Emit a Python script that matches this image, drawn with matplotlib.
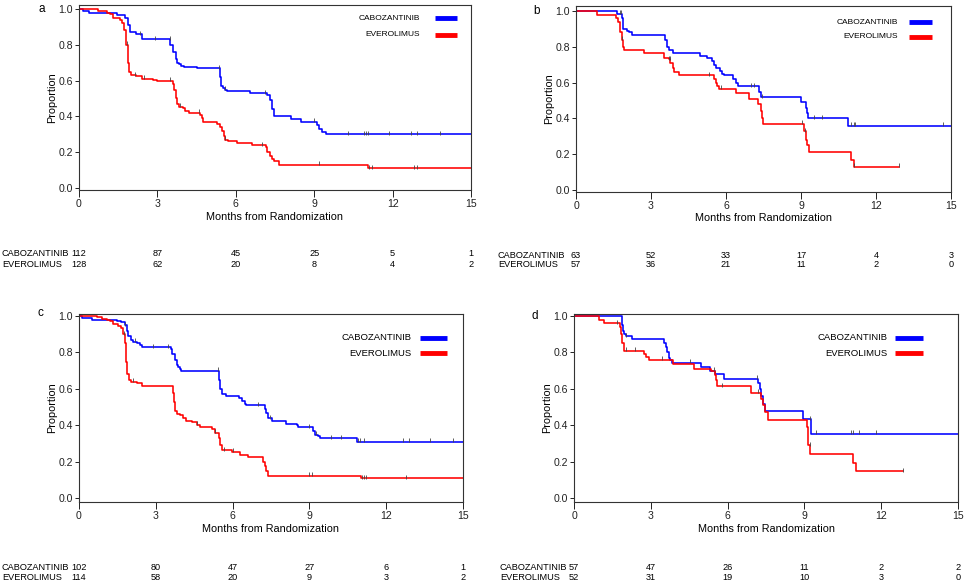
import numpy as np
import matplotlib
matplotlib.use("Agg")
import matplotlib.pyplot as plt
from matplotlib.lines import Line2D
from matplotlib.transforms import blended_transform_factory

plt.rcParams['font.family'] = ['Liberation Sans', 'DejaVu Sans']

W, H = 966, 585
arms = ["CABOZANTINIB", "EVEROLIMUS"]
colors = ["#0000ff", "#ff0000"]
xticks = [0, 3, 6, 9, 12, 15]

# ---- panel a ----
a_cabo_t = [0.17, 0.4, 1.45, 1.76, 1.87, 1.96, 2.2, 2.4, 3.5, 3.6, 3.7, 3.76, 3.83, 3.9, 4.0, 4.5,
            5.4, 5.45, 5.5, 5.6, 5.66, 6.56, 7.2, 7.3, 7.38, 7.48, 8.1, 8.5, 9.1, 9.2, 9.3, 9.44]
a_cabo_s = [0.99, 0.975, 0.965, 0.95, 0.91, 0.87, 0.86, 0.83, 0.80, 0.76, 0.72, 0.70, 0.69, 0.68, 0.675, 0.67,
            0.62, 0.57, 0.56, 0.55, 0.54, 0.53, 0.52, 0.49, 0.44, 0.40, 0.385, 0.37, 0.35, 0.33, 0.315, 0.30]
a_cabo_c = [2.34, 2.92, 3.49, 5.35, 5.6, 7.13, 9.0, 10.3, 10.9, 11.0, 11.05, 11.87, 12.7, 12.95, 13.8]
a_cabo_end = 15
a_ever_t = [0.74, 1.06, 1.2, 1.3, 1.57, 1.65, 1.73, 1.8, 1.87, 1.92, 2.0, 2.2, 2.4, 2.85, 2.98,
            3.6, 3.65, 3.7, 3.75, 3.84, 3.98, 4.07, 4.2, 4.64, 4.7, 4.75, 5.28, 5.4, 5.47, 5.53,
            5.6, 5.69, 6.05, 6.62, 7.14, 7.2, 7.3, 7.38, 7.45, 7.65, 11.04]
a_ever_s = [0.99, 0.98, 0.97, 0.95, 0.94, 0.92, 0.88, 0.80, 0.70, 0.65, 0.63, 0.625, 0.61, 0.605, 0.60,
            0.58, 0.55, 0.50, 0.47, 0.455, 0.445, 0.43, 0.42, 0.41, 0.39, 0.37, 0.36, 0.34, 0.32, 0.29,
            0.27, 0.26, 0.25, 0.24, 0.23, 0.20, 0.18, 0.16, 0.15, 0.13, 0.11]
a_ever_c = [1.83, 2.15, 2.47, 3.49, 3.87, 4.58, 5.6, 7.0, 9.18, 11.1, 11.2, 12.83, 12.93]
a_ever_end = 15
a_risk_cabo = [112, 87, 45, 25, 5, 1]
a_risk_ever = [128, 62, 20, 8, 4, 2]

# ---- panel b ----
b_cabo_t = [1.63, 1.83, 1.87, 2.03, 2.1, 2.23, 3.56, 3.64, 3.73, 3.86, 4.97, 5.24, 5.44, 5.51, 5.6,
            5.75, 5.84, 5.91, 6.27, 6.38, 6.47, 7.33, 7.38, 8.98, 9.18, 9.22, 9.28, 10.86]
b_cabo_s = [0.985, 0.96, 0.90, 0.89, 0.88, 0.865, 0.84, 0.80, 0.78, 0.765, 0.75, 0.735, 0.72, 0.70, 0.68,
            0.665, 0.65, 0.64, 0.62, 0.60, 0.58, 0.55, 0.52, 0.49, 0.46, 0.43, 0.40, 0.36]
b_cabo_c = [1.74, 1.8, 7.0, 7.1, 7.45, 9.52, 9.85, 11.0, 11.1, 11.15, 14.67]
b_cabo_end = 15
b_ever_t = [0.83, 1.6, 1.66, 1.74, 1.83, 1.87, 1.93, 2.7, 3.5, 3.7, 3.77, 3.86, 3.93, 4.13, 5.51,
            5.6, 5.65, 5.71, 6.38, 6.91, 7.29, 7.38, 7.45, 7.49, 9.12, 9.18, 9.25, 9.32, 10.98, 11.1]
b_ever_s = [0.98, 0.96, 0.94, 0.88, 0.84, 0.80, 0.785, 0.765, 0.74, 0.73, 0.71, 0.68, 0.66, 0.64, 0.62,
            0.60, 0.58, 0.565, 0.54, 0.51, 0.48, 0.44, 0.40, 0.37, 0.33, 0.28, 0.25, 0.21, 0.17, 0.13]
b_ever_c = [1.83, 3.7, 3.75, 5.31, 5.8, 9.05, 9.15, 11.12, 12.93]
b_ever_end = 12.93
b_risk_cabo = [63, 52, 33, 17, 4, 3]
b_risk_ever = [57, 36, 21, 11, 2, 0]

# ---- panel c ----
c_cabo_t = [0.1, 0.5, 1.47, 1.66, 1.8, 1.86, 1.92, 2.05, 2.1, 2.25, 2.4, 2.45, 3.58, 3.65, 3.75,
            3.81, 3.87, 3.94, 4.0, 5.47, 5.52, 5.57, 5.76, 6.26, 6.35, 6.48, 6.54, 7.26, 7.32, 7.4,
            7.52, 8.1, 8.5, 8.56, 9.14, 9.2, 9.34, 9.43, 10.86]
c_cabo_s = [0.99, 0.98, 0.97, 0.965, 0.95, 0.92, 0.89, 0.87, 0.86, 0.85, 0.84, 0.83, 0.82, 0.79, 0.76,
            0.73, 0.72, 0.71, 0.70, 0.65, 0.60, 0.57, 0.56, 0.55, 0.535, 0.52, 0.51, 0.49, 0.47, 0.44,
            0.425, 0.41, 0.40, 0.39, 0.37, 0.35, 0.34, 0.33, 0.31]
c_cabo_c = [1.8, 2.18, 2.9, 3.49, 5.44, 7.0, 7.45, 9.0, 9.27, 9.86, 10.25, 10.9, 10.97, 11.15,
            12.65, 12.9, 13.7, 14.6]
c_cabo_end = 15
c_ever_t = [0.7, 0.88, 1.08, 1.21, 1.34, 1.54, 1.63, 1.73, 1.8, 1.84, 1.89, 1.95, 2.03, 2.25, 2.45,
            3.66, 3.71, 3.75, 3.81, 3.94, 4.07, 4.17, 4.4, 4.59, 4.72, 5.18, 5.31, 5.47, 5.52, 5.57,
            5.96, 6.28, 6.6, 7.19, 7.28, 7.32, 7.39, 11.0]
c_ever_s = [0.995, 0.985, 0.98, 0.97, 0.955, 0.945, 0.935, 0.90, 0.85, 0.75, 0.68, 0.65, 0.64, 0.635, 0.615,
            0.58, 0.53, 0.48, 0.465, 0.455, 0.44, 0.425, 0.42, 0.405, 0.39, 0.38, 0.36, 0.33, 0.29, 0.265,
            0.255, 0.24, 0.225, 0.20, 0.18, 0.15, 0.125, 0.11]
c_ever_c = [1.75, 2.12, 4.6, 5.31, 5.65, 6.02, 9.0, 9.1, 11.05, 11.13, 11.2, 12.78]
c_ever_end = 15
c_risk_cabo = [102, 80, 47, 27, 6, 1]
c_risk_ever = [114, 58, 20, 9, 3, 2]

# ---- panel d ----
d_cabo_t = [1.87, 1.9, 1.94, 2.04, 2.28, 3.52, 3.58, 3.65, 3.7, 3.74, 3.84, 4.97, 5.3, 5.5, 5.86,
            7.19, 7.26, 7.32, 7.38, 7.45, 8.95, 9.24]
d_cabo_s = [0.95, 0.92, 0.90, 0.89, 0.875, 0.85, 0.83, 0.80, 0.77, 0.76, 0.745, 0.72, 0.70, 0.68, 0.655,
            0.63, 0.60, 0.56, 0.52, 0.48, 0.435, 0.355]
d_cabo_c = [2.04, 4.55, 5.5, 7.16, 9.2, 9.47, 10.83, 10.9, 11.13, 11.8]
d_cabo_end = 15
d_ever_t = [0.96, 1.16, 1.78, 1.82, 1.87, 1.94, 2.72, 2.8, 2.93, 3.87, 4.69, 5.36, 5.5, 5.56, 5.6,
            6.93, 7.3, 7.38, 7.45, 7.58, 9.1, 9.14, 9.23, 10.9, 11.03]
d_ever_s = [0.98, 0.96, 0.94, 0.90, 0.85, 0.81, 0.79, 0.775, 0.76, 0.735, 0.71, 0.70, 0.675, 0.65, 0.615,
            0.58, 0.545, 0.51, 0.475, 0.43, 0.39, 0.29, 0.245, 0.195, 0.15]
d_ever_c = [1.68, 2.04, 2.37, 3.45, 5.47, 5.8, 7.2, 9.2, 12.85]
d_ever_end = 12.85
d_risk_cabo = [57, 47, 26, 11, 2, 2]
d_risk_ever = [52, 31, 19, 10, 3, 0]


def px_rect(l, t, r, b):
    return [l / W, 1 - b / H, (r - l) / W, (b - t) / H]


def km(ax, t, s, cens, end, color):
    t = np.asarray(t)
    s = np.asarray(s)
    x = np.concatenate([[0], t, [end]])
    y = np.concatenate([[1.0], s, [s[-1]]])
    ax.step(x, y, where='post', color=color, lw=1.15)
    # censor marks sit on the curve at the value in force at that time
    idx = np.searchsorted(t, cens, side='right')
    yc = np.concatenate([[1.0], s])[idx]
    ax.plot(cens, yc + 0.008, ls='none', marker='|', ms=3.5, mew=0.6, color='#444444')


fig = plt.figure(figsize=(W / 100, H / 100), dpi=100)

panels = [
    dict(letter='a', rect=(79, 5, 471, 190), ylim=(-0.011, 1.022), let_xy=(42, 9),
         curves=[(a_cabo_t, a_cabo_s, a_cabo_c, a_cabo_end), (a_ever_t, a_ever_s, a_ever_c, a_ever_end)],
         risk=[a_risk_cabo, a_risk_ever], risk_y=(254, 265), name_x=2, leg=(420, 435, 457, 18, 35), leg_fs=6,
         xlab_y=217),
    dict(letter='b', rect=(576, 6, 951, 192), ylim=(-0.011, 1.028), let_xy=(537, 11),
         curves=[(b_cabo_t, b_cabo_s, b_cabo_c, b_cabo_end), (b_ever_t, b_ever_s, b_ever_c, b_ever_end)],
         risk=[b_risk_cabo, b_risk_ever], risk_y=(255, 265), name_x=498, leg=(898, 909, 932, 22, 37), leg_fs=6,
         xlab_y=218),
    dict(letter='c', rect=(79, 314, 463, 502), ylim=(-0.02, 1.011), let_xy=(40, 313),
         curves=[(c_cabo_t, c_cabo_s, c_cabo_c, c_cabo_end), (c_ever_t, c_ever_s, c_ever_c, c_ever_end)],
         risk=[c_risk_cabo, c_risk_ever], risk_y=(567, 578), name_x=2, leg=(412, 420, 447, 338, 353), leg_fs=6.8,
         xlab_y=529),
    dict(letter='d', rect=(574, 314, 958, 502), ylim=(-0.02, 1.011), let_xy=(535, 316),
         curves=[(d_cabo_t, d_cabo_s, d_cabo_c, d_cabo_end), (d_ever_t, d_ever_s, d_ever_c, d_ever_end)],
         risk=[d_risk_cabo, d_risk_ever], risk_y=(567, 578), name_x=500, leg=(887, 895, 923, 338, 353), leg_fs=6.8,
         xlab_y=529),
]

for p in panels:
    l, t, r, b = p['rect']
    ax = fig.add_axes(px_rect(l, t, r, b))
    for (ct, cs, cc, ce), col in zip(p['curves'], colors):
        km(ax, ct, cs, cc, ce, col)
    ax.set_xlim(0, 15)
    ax.set_ylim(*p['ylim'])
    ax.set_xticks(xticks)
    ax.set_yticks([0.0, 0.2, 0.4, 0.6, 0.8, 1.0])
    ax.set_yticklabels(['0.0', '0.2', '0.4', '0.6', '0.8', '1.0'])
    ax.tick_params(direction='out', width=0.7, labelsize=7.6, colors='#222222')
    ax.tick_params(axis='x', length=5, pad=1.5)
    ax.tick_params(axis='y', length=3, pad=1.5)
    for sp in ax.spines.values():
        sp.set_color('#333333')
        sp.set_linewidth(0.8)
    ax.set_ylabel('Proportion', fontsize=7.8, labelpad=1)
    fig.text((l + r) / 2 / W, 1 - p['xlab_y'] / H, 'Months from Randomization',
             ha='center', va='center', fontsize=7.8)
    fig.text(p['let_xy'][0] / W, 1 - p['let_xy'][1] / H, p['letter'], ha='center', va='center', fontsize=8.5)

    # legend: label then thick line segment
    tx, x0, x1, y0, y1 = p['leg']
    for name, col, yy in zip(arms, colors, (y0, y1)):
        fig.text(tx / W, 1 - yy / H, name, ha='right', va='center', fontsize=p['leg_fs'])
        fig.add_artist(Line2D([x0 / W, x1 / W], [1 - yy / H, 1 - yy / H], color=col, lw=3.5,
                              solid_capstyle='butt'))

    # numbers at risk, centred under the x ticks
    trans = blended_transform_factory(ax.transData, fig.transFigure)
    for name, counts, yy in zip(arms, p['risk'], p['risk_y']):
        fig.text(p['name_x'] / W, 1 - yy / H, name, ha='left', va='center', fontsize=6.6)
        for xv, n in zip(xticks, counts):
            ax.text(xv, 1 - yy / H, str(n), transform=trans, ha='center', va='center', fontsize=6.6)

fig.savefig('out.png', dpi=100)
